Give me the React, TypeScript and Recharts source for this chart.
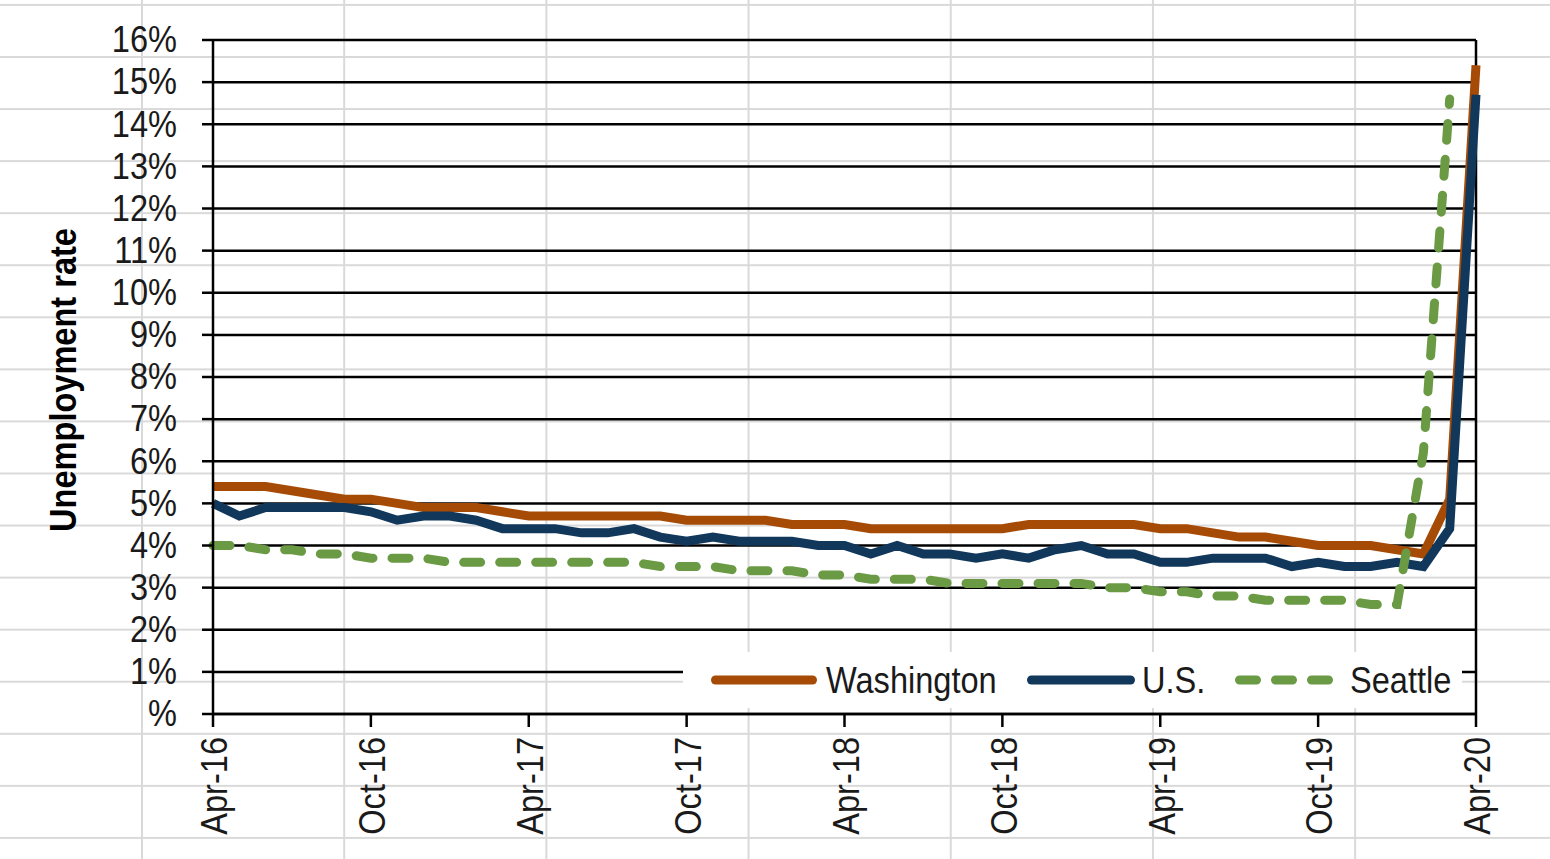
import React from 'react';
import { LineChart, Line, XAxis, YAxis, CartesianGrid, Legend, ReferenceLine } from 'recharts';

const months = [
  'Apr-16', 'May-16', 'Jun-16', 'Jul-16', 'Aug-16', 'Sep-16', 'Oct-16', 'Nov-16', 'Dec-16',
  'Jan-17', 'Feb-17', 'Mar-17', 'Apr-17', 'May-17', 'Jun-17', 'Jul-17', 'Aug-17', 'Sep-17', 'Oct-17', 'Nov-17', 'Dec-17',
  'Jan-18', 'Feb-18', 'Mar-18', 'Apr-18', 'May-18', 'Jun-18', 'Jul-18', 'Aug-18', 'Sep-18', 'Oct-18', 'Nov-18', 'Dec-18',
  'Jan-19', 'Feb-19', 'Mar-19', 'Apr-19', 'May-19', 'Jun-19', 'Jul-19', 'Aug-19', 'Sep-19', 'Oct-19', 'Nov-19', 'Dec-19',
  'Jan-20', 'Feb-20', 'Mar-20', 'Apr-20',
];

const tickMonths = ['Apr-16', 'Oct-16', 'Apr-17', 'Oct-17', 'Apr-18', 'Oct-18', 'Apr-19', 'Oct-19', 'Apr-20'];
const yTicks = [0, 1, 2, 3, 4, 5, 6, 7, 8, 9, 10, 11, 12, 13, 14, 15, 16];

const washington = [
  5.4, 5.4, 5.4, 5.3, 5.2, 5.1, 5.1, 5.0, 4.9,
  4.9, 4.9, 4.8, 4.7, 4.7, 4.7, 4.7, 4.7, 4.7, 4.6, 4.6, 4.6,
  4.6, 4.5, 4.5, 4.5, 4.4, 4.4, 4.4, 4.4, 4.4, 4.4, 4.5, 4.5,
  4.5, 4.5, 4.5, 4.4, 4.4, 4.3, 4.2, 4.2, 4.1, 4.0, 4.0, 4.0,
  3.9, 3.8, 5.1, 15.4,
];

const us = [
  5.0, 4.7, 4.9, 4.9, 4.9, 4.9, 4.8, 4.6, 4.7,
  4.7, 4.6, 4.4, 4.4, 4.4, 4.3, 4.3, 4.4, 4.2, 4.1, 4.2, 4.1,
  4.1, 4.1, 4.0, 4.0, 3.8, 4.0, 3.8, 3.8, 3.7, 3.8, 3.7, 3.9,
  4.0, 3.8, 3.8, 3.6, 3.6, 3.7, 3.7, 3.7, 3.5, 3.6, 3.5, 3.5,
  3.6, 3.5, 4.4, 14.7,
];

const seattle: (number | null)[] = [
  4.0, 4.0, 3.9, 3.9, 3.8, 3.8, 3.7, 3.7, 3.7,
  3.6, 3.6, 3.6, 3.6, 3.6, 3.6, 3.6, 3.6, 3.5, 3.5, 3.5, 3.4,
  3.4, 3.4, 3.3, 3.3, 3.2, 3.2, 3.2, 3.1, 3.1, 3.1, 3.1, 3.1,
  3.1, 3.0, 3.0, 2.9, 2.9, 2.8, 2.8, 2.7, 2.7, 2.7, 2.7, 2.6,
  2.6, 6.2, 14.6, null,
];

const seriesNames = ['Washington', 'U.S.', 'Seattle'];
const seriesColors = ['#A64B05', '#11375B', '#6B9A45'];

const data = months.map((m, i) => ({
  month: m,
  wa: washington[i],
  us: us[i],
  sea: seattle[i],
}));

const FONT = "'Liberation Sans', Arial, sans-serif";
const TEXT = '#1a1a1a';
const FS = 37;
const SX = 0.88;

const NarrowText = (props: any) => {
  const { x, y, rot = 0, anchor = 'start', bold = false, fill = TEXT, children } = props;
  return (
    <g transform={`translate(${x}, ${y}) rotate(${rot}) scale(${SX}, 1)`}>
      <text
        x={0}
        y={0}
        textAnchor={anchor}
        dominantBaseline="central"
        fontFamily={FONT}
        fontSize={FS}
        fontWeight={bold ? 'bold' : 'normal'}
        fill={fill}
      >
        {children}
      </text>
    </g>
  );
};

const XTick = (props: any) => {
  const { x, y, payload } = props;
  return (
    <NarrowText x={x + 1} y={y} rot={-90} anchor="end">
      {payload.value}
    </NarrowText>
  );
};

const YTick = (props: any) => {
  const { x, y, payload } = props;
  const v = payload.value;
  return (
    <NarrowText x={x} y={y - 1} anchor="end">
      {v === 0 ? '%' : `${v}%`}
    </NarrowText>
  );
};

const YTitle = (props: any) => {
  const { viewBox } = props;
  const cx = viewBox.x + 63;
  const cy = viewBox.y + viewBox.height / 2 + 3;
  return (
    <NarrowText x={cx} y={cy} rot={-90} anchor="middle" bold fill="#000">
      Unemployment rate
    </NarrowText>
  );
};

const LegendContent = () => {
  const sampleX = [28, 344, 552];
  const sampleW = [106, 108, 98];
  const textX = [143, 459, 667];
  return (
    <svg width={779} height={56} style={{ display: 'block' }}>
      {seriesNames.map((name, i) => (
        <g key={name}>
          <line
            x1={sampleX[i] + 4.5}
            y1={28}
            x2={sampleX[i] + sampleW[i] - 4.5}
            y2={28}
            stroke={seriesColors[i]}
            strokeWidth={9}
            strokeLinecap="round"
            strokeDasharray={i === 2 ? '17 19' : undefined}
          />
          <NarrowText x={textX[i]} y={28}>
            {name}
          </NarrowText>
        </g>
      ))}
    </svg>
  );
};

export default function App() {
  return (
    <div
      style={{
        position: 'absolute',
        left: 0,
        top: 0,
        width: 1550,
        height: 859,
        backgroundColor: '#fff',
        backgroundImage:
          'linear-gradient(to right, #d9d9d9 0px, #d9d9d9 2px, transparent 2px), linear-gradient(to bottom, #d9d9d9 0px, #d9d9d9 2px, transparent 2px)',
        backgroundSize: '202.2px 100%, 100% 52.07px',
        backgroundPosition: '141px 0px, 0px 56px',
        overflow: 'hidden',
      }}
    >
      <LineChart width={1550} height={859} data={data} margin={{ top: 40, right: 74, bottom: 0, left: 0 }}>
        <CartesianGrid vertical={false} stroke="#000" strokeWidth={2.5} />
        <XAxis
          dataKey="month"
          ticks={tickMonths}
          interval={0}
          tickSize={13}
          tickMargin={10}
          height={145}
          axisLine={{ stroke: '#000', strokeWidth: 2.5 }}
          tickLine={{ stroke: '#000', strokeWidth: 2.5 }}
          tick={<XTick />}
        />
        <YAxis
          type="number"
          domain={[0, 16]}
          ticks={yTicks}
          interval={0}
          width={213}
          tickSize={11}
          tickMargin={25}
          axisLine={{ stroke: '#000', strokeWidth: 2.5 }}
          tickLine={{ stroke: '#000', strokeWidth: 2.5 }}
          tick={<YTick />}
          label={<YTitle />}
        />
        <ReferenceLine x="Apr-20" stroke="#000" strokeWidth={2.5} />
        <Line type="linear" dataKey="wa" name={seriesNames[0]} stroke={seriesColors[0]} strokeWidth={9} dot={false} isAnimationActive={false} />
        <Line type="linear" dataKey="us" name={seriesNames[1]} stroke={seriesColors[1]} strokeWidth={9} dot={false} isAnimationActive={false} />
        <Line
          type="linear"
          dataKey="sea"
          name={seriesNames[2]}
          stroke={seriesColors[2]}
          strokeWidth={9}
          strokeDasharray="17 19"
          strokeLinecap="round"
          dot={false}
          isAnimationActive={false}
        />
        <Legend
          verticalAlign="middle"
          align="center"
          layout="horizontal"
          content={<LegendContent />}
          wrapperStyle={{ position: 'absolute', left: 683, top: 652, width: 779, height: 56, backgroundColor: '#fff' }}
        />
      </LineChart>
    </div>
  );
}
